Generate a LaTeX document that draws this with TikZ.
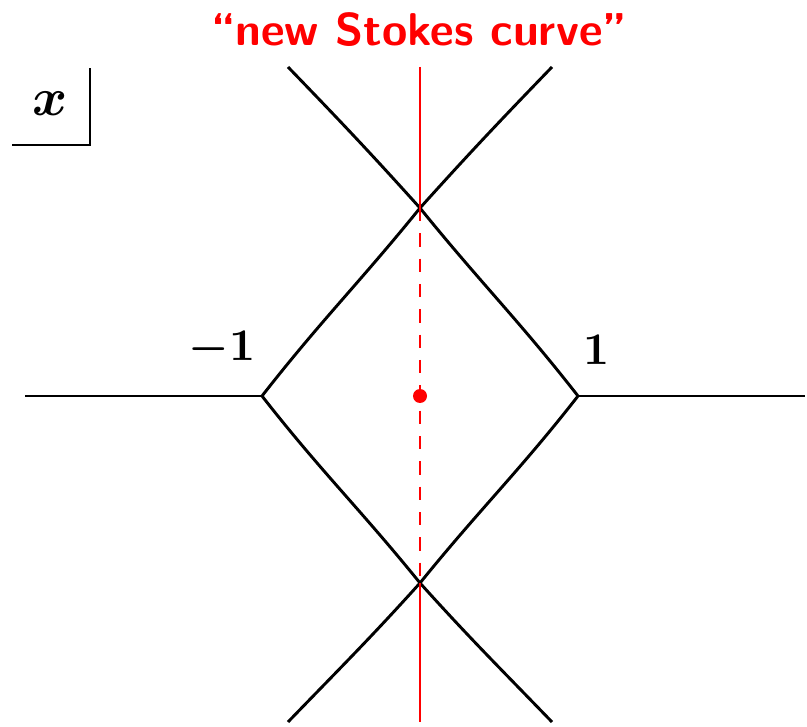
\RequirePackage{fix-cm}
\documentclass[tikz,border=0pt]{standalone}
\usepackage{amsmath}
\usepackage{fontspec}
\newfontfamily\numfont{lmroman10-bold}[Extension=.otf]
\begin{document}
\begin{tikzpicture}[x=0.75pt,y=-0.75pt,font=\boldmath\fontsize{34}{40}\selectfont]
\useasboundingbox (0,0) rectangle (807,727);
\tikzset{stokes/.style={line width=2.2pt,black},
  newstokes/.style={line width=1.6pt,red},
  newdash/.style={newstokes,dash pattern=on 10pt off 9pt}}
% turning points and crossings
\coordinate (tpL) at (262,396);
\coordinate (tpR) at (578,396);
\coordinate (crU) at (420,208);
\coordinate (crD) at (420,583);
\coordinate (endL) at (25,396);
\coordinate (endR) at (805,396);
\coordinate (ulT) at (288,67);
\coordinate (urT) at (552,67);
\coordinate (llB) at (288,722);
\coordinate (lrB) at (552,722);
\coordinate (rdT) at (420,67);
\coordinate (rdB) at (420,722);
% Stokes curves
\draw[stokes] (endL) -- (tpL);
\draw[stokes] (tpR) -- (endR);
\draw[stokes] (tpL) to[out=52,in=-129] (crU) to[out=48,in=-134] (urT);
\draw[stokes] (tpR) to[out=128,in=-51] (crU) to[out=132,in=-46] (ulT);
\draw[stokes] (tpL) to[out=-52,in=129] (crD) to[out=-48,in=134] (lrB);
\draw[stokes] (tpR) to[out=-128,in=51] (crD) to[out=-132,in=46] (llB);
% new Stokes curve
\draw[newstokes] (rdT) -- (crU);
\draw[newdash] (crU) -- (crD);
\draw[newstokes] (crD) -- (rdB);
\node[circle,fill=red,inner sep=0pt,minimum size=10.5pt] (vp) at (420,396) {};
\node[text=red,font=\sffamily\bfseries\fontsize{34.5}{42}\selectfont] (title) at (419,30) {“new Stokes curve”};
% labels
\node (lblL) at (222,349) {$-\text{\numfont 1}$};
\node (lblR) at (597,350) {\numfont 1};
\node[font=\boldmath\fontsize{40}{48}\selectfont] (xlbl) at (50,104) {$x$};
\coordinate (boxL) at (12,145);
\coordinate (boxC) at (90,145);
\coordinate (boxT) at (90,68);
\draw[line width=1.3pt] (boxL) -- (boxC) -- (boxT);
\end{tikzpicture}
\end{document}
